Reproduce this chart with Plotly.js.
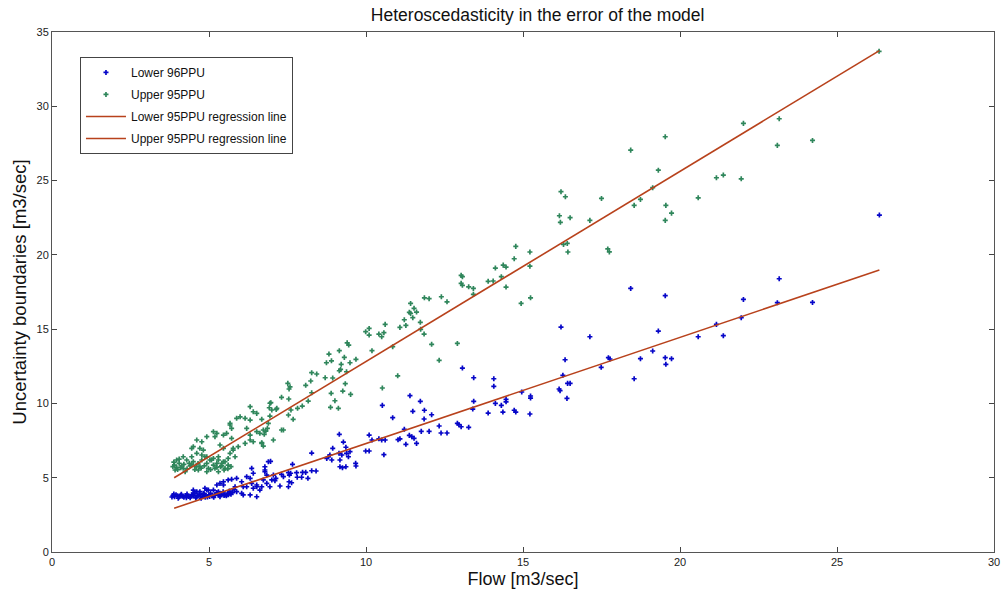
<!DOCTYPE html>
<html>
<head>
<meta charset="utf-8">
<script src="https://cdn.plot.ly/plotly-3.0.1.min.js"></script>
<style>html,body{margin:0;padding:0;background:#fff;}#chart{width:1005px;height:597px;}</style>
</head>
<body>
<div id="chart"></div>
<script>
// Lower 96PPU boundary points (flow, value)
const lowerFlow = [26.35,24.22,23.16,23.10,22.02,21.95,21.38,21.16,20.58,19.73,19.55,19.53,19.53,19.31,19.13,18.74,18.54,18.43,17.77,17.72,17.49,17.13,16.50,16.42,16.40,16.34,16.27,16.21,16.18,16.15,15.24,15.24,15.22,14.96,14.77,14.72,14.46,14.46,14.36,14.31,14.12,14.07,14.07,13.89,
13.07,13.43,13.43,13.40,11.40,11.73,10.52,11.49,11.86,12.09,11.85,10.85,12.33,12.91,12.96,13.03,13.27,11.22,11.76,12.01,12.39,12.58,11.08,11.02,11.38,11.46,11.53,11.61,11.27,10.10,10.19,10.41,10.50,10.61,9.99,10.10,10.57,
9.15,9.28,8.94,9.36,8.27,8.75,8.80,8.85,8.91,9.14,9.23,9.38,9.44,9.49,9.17,9.17,9.25,9.36,9.67,9.68,6.96,7.66,7.98,8.08,8.27,8.41,8.15,7.81,7.53,7.56,7.60,7.31,7.37,7.55,7.63,7.26,7.53,7.05,7.13,7.00,7.10,6.78,6.78,6.73,6.84,6.68,6.94,7.79,7.95,
5.46,5.61,5.72,5.88,6.04,6.20,6.36,6.41,6.52,6.62,6.84,6.89,6.78,5.14,5.30,4.93,4.71,4.50,5.88,6.09,6.31,6.52,4.87,5.25,5.35,6.20,6.31,6.36,6.41,6.09,6.52,6.04,5.67,5.56,4.98,4.82,4.61,4.50,5.46,5.83,
3.85,3.90,3.95,4.00,4.05,4.10,4.15,4.20,4.25,4.30,4.35,4.40,4.45,4.50,4.55,4.60,4.65,4.70,4.75,4.80,4.85,4.90,4.95,5.00,5.05,5.10,5.15,5.20,5.25,5.30,5.35,5.40,5.45,5.50,5.55,5.60,5.65,5.70,5.75,5.80,3.82,3.88,4.02,4.12,4.28,4.42,4.58,4.72,4.88,5.02,5.18,5.32,5.48,5.62];
const lowerBound = [22.68,16.80,18.39,16.78,17.00,15.77,14.56,15.32,14.49,13.01,12.63,13.08,17.25,14.87,13.53,13.01,11.66,17.74,12.99,13.08,12.43,14.49,11.35,11.35,10.34,12.94,11.89,15.14,10.86,10.97,10.50,10.36,9.29,10.77,9.42,9.54,10.27,10.11,9.42,9.87,10.00,11.66,11.15,9.35,
12.38,11.73,10.14,9.62,10.52,10.14,9.87,9.47,9.54,9.24,8.95,9.04,8.48,8.66,8.57,8.43,8.39,8.26,8.12,8.12,8.01,8.01,7.62,7.56,7.85,7.76,7.65,7.31,7.25,7.87,7.54,7.62,7.54,7.54,6.80,6.80,6.55,
7.92,7.40,6.98,7.05,6.66,6.30,6.41,6.53,6.19,6.64,6.53,6.64,6.41,6.75,6.19,5.74,5.67,5.74,5.97,5.79,6.10,5.90,5.36,5.36,5.47,5.45,4.96,5.03,5.34,5.18,5.30,5.23,5.07,4.73,4.66,4.44,4.39,5.18,4.96,4.85,4.80,5.52,5.40,4.85,4.62,4.39,4.39,5.34,5.03,
4.73,4.85,4.89,4.96,4.73,4.39,4.62,4.29,4.39,4.17,5.18,6.08,5.74,4.17,4.06,4.17,4.06,3.95,4.06,3.84,3.84,3.72,4.29,4.51,4.62,5.07,4.96,5.63,5.30,4.39,4.51,3.95,3.95,3.84,4.17,3.95,4.06,4.17,4.51,4.39,
3.80,3.72,3.85,3.78,3.70,3.82,3.75,3.68,3.80,3.90,3.73,3.65,3.85,3.78,3.95,3.70,3.82,3.88,3.62,3.75,3.92,3.80,3.70,3.85,3.95,3.78,3.68,3.88,4.00,3.82,3.72,3.90,4.05,3.85,3.78,3.95,4.10,3.88,4.00,4.20,3.70,3.90,3.62,3.88,3.66,3.74,3.64,3.76,3.68,3.74,3.82,3.90,3.80,3.86];

// Upper 95PPU boundary points (flow, value)
const upperFlow = [26.34,24.22,23.16,23.10,22.02,21.95,21.38,21.16,20.58,19.73,19.55,19.53,19.53,19.31,19.13,18.74,18.54,18.43,17.75,17.70,17.50,17.13,16.50,16.43,16.41,16.29,16.35,16.21,16.19,16.16,15.24,15.22,15.22,14.94,14.77,14.72,14.46,14.46,14.37,14.31,14.12,14.05,13.89,
13.03,13.07,13.03,13.07,13.27,13.42,13.42,11.86,12.01,12.40,12.58,11.42,11.53,11.38,11.42,11.61,11.49,11.22,11.27,11.08,11.73,11.74,11.85,10.61,9.99,10.10,10.10,10.41,10.50,10.57,10.85,10.19,12.09,12.91,12.33,11.01,10.52,
9.40,9.45,8.82,9.15,8.74,8.90,9.21,9.31,9.49,9.68,9.15,9.19,9.38,8.27,8.43,8.70,8.94,8.24,8.08,7.51,7.58,7.55,9.34,8.27,8.89,9.26,9.51,7.31,7.54,8.16,6.97,9.01,8.87,9.12,7.14,6.92,7.61,7.82,7.97,7.53,6.94,7.68,6.68,6.86,6.81,6.76,7.31,7.37,7.05,6.68,6.73,
3.90,3.97,3.92,4.05,4.13,4.18,4.29,4.37,4.24,4.45,4.50,4.59,4.66,4.61,4.71,4.77,4.93,4.82,4.87,4.93,4.98,5.08,5.14,5.19,5.25,5.30,5.37,5.46,5.51,5.14,5.25,5.19,5.35,5.46,5.67,5.72,5.88,5.99,5.72,5.77,5.83,5.61,5.48,5.30,4.93,4.71,4.77,6.31,6.41,6.52,6.15,6.31,6.20,6.62,6.52,6.73,6.94,7.00,7.16,6.89,4.61,4.50,3.97,4.18,
5.67,5.56,5.46,4.45,4.77,4.93,5.03,5.14,5.30,5.41,5.51,5.61,5.67,5.77,5.93,6.15,6.31,6.31,6.41,6.68,
3.85,4.00,4.10,4.30,4.40,4.55,4.75,4.85,5.05,5.25,5.40,5.60,5.70,4.20,4.45,4.65,3.88,4.05];
const upperBound = [33.70,27.70,29.16,27.37,28.85,25.12,25.37,25.19,23.84,22.81,23.33,22.32,27.95,25.70,24.52,23.73,23.33,27.05,20.20,20.40,23.80,22.32,22.50,20.19,20.77,20.70,23.91,24.25,22.19,22.63,17.11,20.19,19.24,16.73,20.57,19.74,19.18,17.83,19.31,18.53,19.11,18.24,18.22,
18.62,18.53,18.08,17.95,17.85,17.74,17.34,17.11,17.05,17.18,16.84,16.73,16.40,16.13,16.06,16.15,15.77,15.63,15.25,15.12,15.46,14.99,14.67,15.32,14.83,15.05,14.60,14.67,14.49,14.76,13.82,13.55,13.98,14.04,12.90,11.86,11.04,
14.08,13.93,13.32,13.55,12.74,12.87,12.63,13.10,12.74,12.97,12.20,12.29,12.13,12.07,11.98,11.73,11.71,11.51,11.22,11.35,11.12,10.97,11.33,10.72,10.68,10.83,10.61,10.41,10.30,10.16,10.05,10.18,9.74,9.67,9.60,9.71,9.56,9.67,9.82,9.22,9.15,8.93,8.93,8.32,8.14,7.92,8.21,8.21,7.54,7.36,7.13,
5.85,5.70,5.52,5.97,5.79,5.63,6.19,5.97,5.40,6.41,6.08,5.74,5.52,6.64,6.98,7.42,7.76,6.86,6.41,5.97,5.63,6.19,5.85,5.63,5.97,6.41,5.74,6.08,5.63,8.10,7.99,7.76,7.20,6.98,8.66,8.32,9.00,9.10,7.65,6.98,6.41,5.85,5.52,5.40,5.40,5.74,6.19,9.78,9.44,9.33,9.00,8.88,8.32,7.99,8.10,8.21,10.01,9.56,9.67,8.66,7.54,7.09,6.19,6.41,
8.55,7.99,7.87,6.98,6.53,6.41,6.19,6.30,6.19,5.97,6.08,6.30,6.64,6.86,7.09,7.31,7.54,7.87,7.42,7.31,
5.75,5.55,5.68,5.60,5.80,5.55,5.65,5.80,5.55,5.70,5.80,5.60,5.75,5.90,5.90,5.95,6.05,6.25];

// Regression lines (end points)
const fitFlow = [3.89, 26.35];
const lowerFit = [2.94, 18.98];
const upperFit = [5.00, 33.75];

const legendNames = ['Lower 96PPU', 'Upper 95PPU', 'Lower 95PPU regression line', 'Upper 95PPU regression line'];
const xTicks = [0, 5, 10, 15, 20, 25, 30];
const yTicks = [0, 5, 10, 15, 20, 25, 30, 35];

const FONT = 'Arial, "Liberation Sans", sans-serif';
const lineColor = '#b8421c';

const traces = [
  {x: lowerFlow, y: lowerBound, type: 'scatter', mode: 'markers', name: legendNames[0], legendgroup: 'a',
   marker: {symbol: 'cross', size: 4.2, color: '#0606c8'}},
  {x: upperFlow, y: upperBound, type: 'scatter', mode: 'markers', name: legendNames[1], legendgroup: 'b',
   marker: {symbol: 'cross', size: 4.2, color: '#2f865b'}},
  {x: fitFlow, y: lowerFit, type: 'scatter', mode: 'lines', name: legendNames[2], legendgroup: 'c',
   line: {color: lineColor, width: 1.6}},
  {x: fitFlow, y: upperFit, type: 'scatter', mode: 'lines', name: legendNames[3], legendgroup: 'd',
   line: {color: lineColor, width: 1.6}}
];

const axisCommon = {
  ticks: 'inside', ticklen: 5, tickcolor: '#444', showline: true, mirror: 'ticks',
  linecolor: '#555', linewidth: 1, showgrid: false, zeroline: false,
  tickfont: {family: FONT, size: 11, color: '#222'}
};

const layout = {
  width: 1005, height: 597,
  margin: {l: 52, r: 11, t: 32, b: 45},
  paper_bgcolor: '#fff', plot_bgcolor: '#fff',
  font: {family: FONT, color: '#111'},
  title: {text: 'Heteroscedasticity in the error of the model', font: {family: FONT, size: 17.5, color: '#111'},
          xref: 'container', x: 0.535, xanchor: 'center', yref: 'container', y: 0.975, yanchor: 'middle'},
  xaxis: Object.assign({}, axisCommon, {range: [0, 30], tickvals: xTicks, ticktext: xTicks.map(String),
          title: {text: 'Flow [m3/sec]', font: {family: FONT, size: 18, color: '#111'}, standoff: 5}}),
  yaxis: Object.assign({}, axisCommon, {range: [0, 35], tickvals: yTicks, ticktext: yTicks.map(String),
          title: {text: 'Uncertainty boundaries [m3/sec]', font: {family: FONT, size: 18.5, color: '#111'}, standoff: 5}}),
  showlegend: true,
  legend: {x: 0.0297, y: 0.952, xanchor: 'left', yanchor: 'top', bgcolor: '#fff', bordercolor: '#444', borderwidth: 1,
           font: {family: FONT, size: 12, color: '#111'}, itemwidth: 40, tracegroupgap: 3}
};

Plotly.newPlot('chart', traces, layout, {displayModeBar: false, staticPlot: true});
</script>
</body>
</html>
